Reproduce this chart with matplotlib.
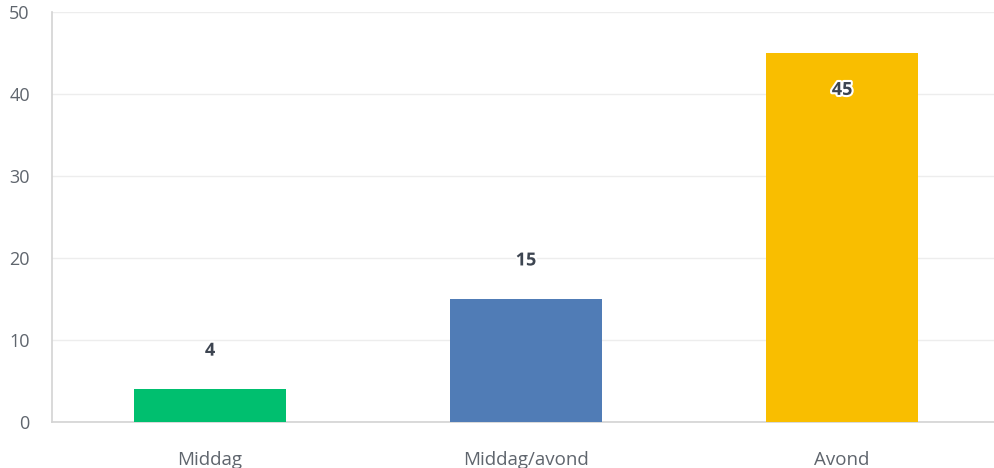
import matplotlib
matplotlib.use("Agg")
import matplotlib.pyplot as plt
import matplotlib.patheffects as pe

categories = ["Middag", "Middag/avond", "Avond"]
values = [4, 15, 45]
colors = ["#00BF6F", "#507CB6", "#F9BE00"]
y_ticks = [0, 10, 20, 30, 40, 50]

W, H = 994, 468
fig = plt.figure(figsize=(W / 100, H / 100), dpi=100)
left, right, bottom, top = 52, 1000, 422, 12
ax = fig.add_axes([left / W, 1 - bottom / H, (right - left) / W, (bottom - top) / H])

x = list(range(len(categories)))
ax.bar(x, values, width=0.48, color=colors, zorder=3)
ax.set_xlim(-0.5, 2.5)
ax.set_ylim(0, 50)
ax.set_yticks(y_ticks)
ax.set_xticks(x)
ax.set_xticklabels(categories)

font = "Open Sans"
for lab in ax.get_yticklabels():
    lab.set_fontfamily(font)
for lab in ax.get_xticklabels():
    lab.set_fontfamily(font)
ax.tick_params(axis="y", length=0, pad=16, labelsize=13, labelcolor="#5F656D")
ax.tick_params(axis="x", length=0, pad=21, labelsize=13.5, labelcolor="#5F656D")

ax.grid(axis="y", color="#EDEDED", linewidth=1, zorder=0)
for s in ["top", "right"]:
    ax.spines[s].set_visible(False)
ax.spines["left"].set_color("#D3D3D3")
ax.spines["bottom"].set_color("#D3D3D3")
ax.spines["left"].set_linewidth(1.2)
ax.spines["bottom"].set_linewidth(1.2)

for xi, v in zip(x, values):
    if v > 30:
        yv = v - 4.5
    else:
        yv = v + 4.7
    ax.text(xi, yv, str(v), ha="center", va="center", fontsize=13, fontweight="bold",
            color="#3D4551", fontfamily=font, zorder=5,
            path_effects=[pe.withStroke(linewidth=3, foreground="white")])

fig.savefig("out.png", dpi=100)
